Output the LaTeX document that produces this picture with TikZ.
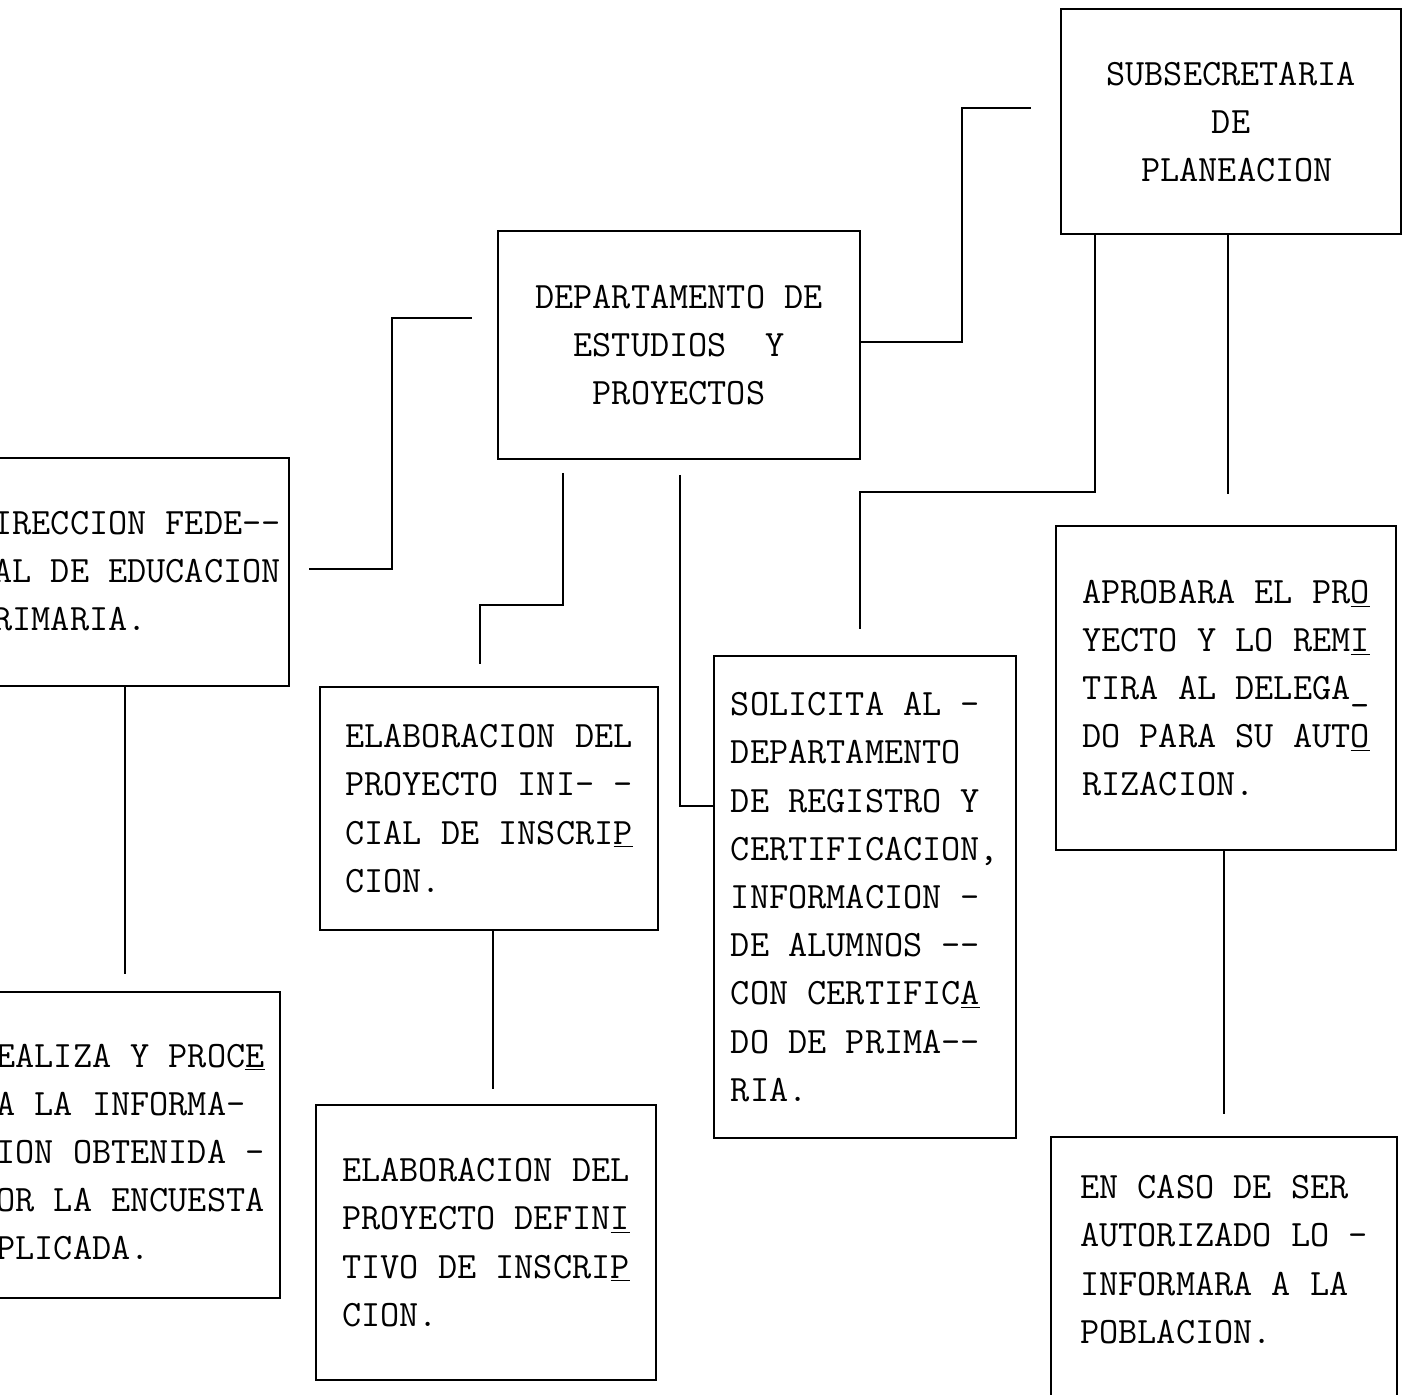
\documentclass[tikz,border=0pt]{standalone}
\usetikzlibrary{calc}
\tikzset{box/.style={draw,line width=1pt,inner sep=0pt,align=left,
    font=\ttfamily\fontsize{18.6pt}{24.1pt}\selectfont},
  lbl/.style={inner sep=0pt,align=left,anchor=west,
    font=\ttfamily\fontsize{18.6pt}{24.1pt}\selectfont},
  link/.style={line width=1pt}}

\begin{document}
\begin{tikzpicture}[x=0.5pt,y=0.5pt,yscale=-1,xscale=1]
\useasboundingbox (0,0) rectangle (1407,1395);
\clip (0,0) rectangle (1407,1395);

%Shape: Rectangle [subse]
\node[box,align=center,minimum width=170pt,minimum height=112.5pt] (subse) at (1231,122) {SUBSECRETARIA\\DE\\\hspace*{6pt}PLANEACION};
%Shape: Rectangle [depto]
\node[box,align=center,minimum width=181pt,minimum height=114pt] (depto) at (679,345) {DEPARTAMENTO DE\\ESTUDIOS~~Y\\PROYECTOS};
%Shape: Rectangle [direc] (cut at the left)
\node[box,minimum width=164.5pt,minimum height=114pt] (direc) at (124.5,572) {};
\node[lbl] (direct) at (-7,571) {IRECCION FEDE-\kern0pt-\\AL DE EDUCACION\\RIMARIA.};
%Shape: Rectangle [realiza] (cut at the left)
\node[box,minimum width=160pt,minimum height=153pt] (realiza) at (120,1145) {};
\node[lbl] (realt) at (-4,1152) {EALIZA Y PROC\underline{E}\\A LA INFORMA-\\ION OBTENIDA -\\OR LA ENCUESTA\\PLICADA.};
%Shape: Rectangle [inicial]
\node[box,minimum width=169pt,minimum height=121.5pt] (inicial) at (489,808.5) {ELABORACION DEL\\PROYECTO INI- -\\CIAL DE INSCRI\underline{P}\\CION.};
%Shape: Rectangle [defin]
\node[box,minimum width=170pt,minimum height=137.5pt] (defin) at (486,1242.5) {ELABORACION DEL\\PROYECTO DEFIN\underline{I}\\TIVO DE INSCRI\underline{P}\\CION.};
%Shape: Rectangle [solic]
\node[box,minimum width=151pt,minimum height=241pt] (solic) at (865,897) {SOLICITA AL -\\DEPARTAMENTO\\DE REGISTRO Y\\CERTIFICACION,\\INFORMACION -\\DE ALUMNOS -\kern0pt-\\CON CERTIFIC\underline{A}\\DO DE PRIMA-\kern0pt-\\RIA.};
%Shape: Rectangle [aprob]
\node[box,minimum width=170pt,minimum height=162pt] (aprob) at (1226,688) {APROBARA EL PR\underline{O}\\YECTO Y LO REM\underline{I}\\TIRA AL DELEGA\_\\DO PARA SU AUT\underline{O}\\RIZACION.};
%Shape: Rectangle [caso] (open at the bottom)
\node[box,draw=none,minimum width=172pt,minimum height=121.5pt] (caso) at (1224,1259.5) {EN CASO DE SER\\AUTORIZADO LO -\\INFORMARA A LA\\POBLACION.};
\draw[link] (caso.south west |- 0,1420) -- (caso.north west) -- (caso.north east) -- (caso.south east |- 0,1420);

%Connectors
\coordinate (e1) at (392,318);
\draw[link,shorten <=9.5pt,shorten >=12.5pt] (direc.east |- 0,569) -| (e1) -- (depto.west |- e1);
\coordinate (e2) at (962,108);
\draw[link,shorten >=14.5pt] (depto.east |- 0,342) -| (e2) -- (subse.west |- e2);
\coordinate (e3) at (480,605);
\draw[link,shorten <=6.5pt,shorten >=11pt] (depto.south -| 563,0) |- (e3) -- (inicial.north -| e3);
\draw[link,shorten <=7.5pt] (depto.south -| 680,0) |- (solic.west |- 0,806);
\coordinate (e5) at (860,492);
\draw[link,shorten >=13pt] (subse.south -| 1095,0) |- (e5) -- (solic.north -| e5);
\draw[link,shorten >=15.5pt] (subse.south -| 1228,0) -- (aprob.north -| 1228,0);
\draw[link,shorten >=8.5pt] (direc.south) -- (realiza.north -| direc.south);
\draw[link,shorten >=7.5pt] (inicial.south -| 493,0) -- (defin.north -| 493,0);
\draw[link,shorten >=11.5pt] (aprob.south -| 1224,0) -- (caso.north -| 1224,0);

\end{tikzpicture}
\end{document}
